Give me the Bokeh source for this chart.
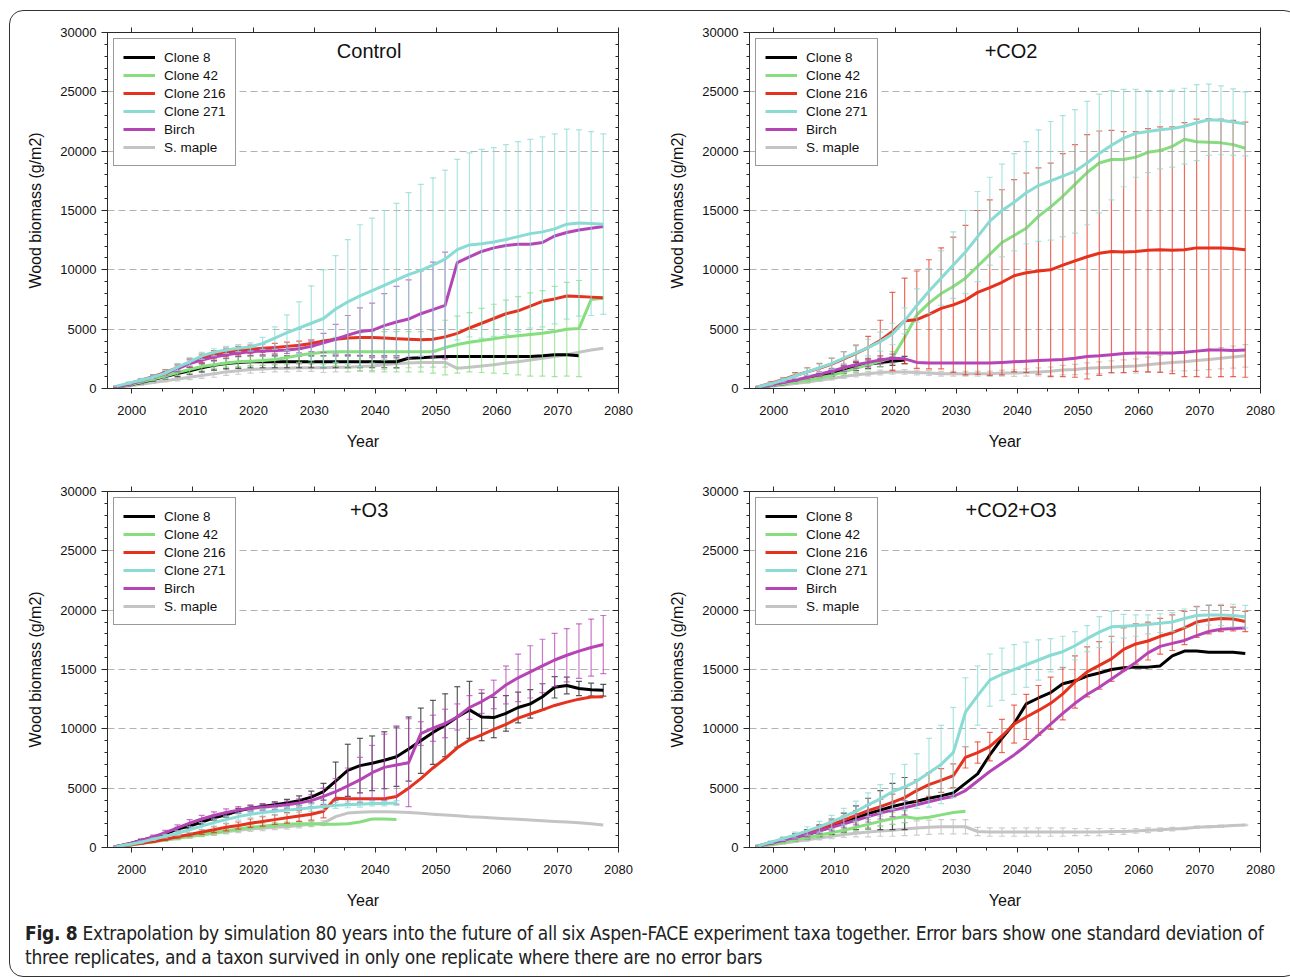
import numpy as np
from bokeh.plotting import figure
from bokeh.models import (Range1d, LinearAxis, SingleIntervalTicker, Legend,
                          LegendItem, Label, Div)
from bokeh.layouts import column, row
from bokeh.embed import file_html
from bokeh.resources import INLINE

N = None

# ---------------------------------------------------------------- data
years = [1997.5, 1999.5, 2001.5, 2003.5, 2005.5, 2007.5, 2009.5, 2011.5, 2013.5, 2015.5,
         2017.5, 2019.5, 2021.5, 2023.5, 2025.5, 2027.5, 2029.5, 2031.5, 2033.5, 2035.5,
         2037.5, 2039.5, 2041.5, 2043.5, 2045.5, 2047.5, 2049.5, 2051.5, 2053.5, 2055.5,
         2057.5, 2059.5, 2061.5, 2063.5, 2065.5, 2067.5, 2069.5, 2071.5, 2073.5, 2075.5,
         2077.5]

taxa = ["Clone 8", "Clone 42", "Clone 216", "Clone 271", "Birch", "S. maple"]
panel_titles = ["Control", "+CO2", "+O3", "+CO2+O3"]
y_ticks = [0, 5000, 10000, 15000, 20000, 25000, 30000]
x_ticks = [2000, 2010, 2020, 2030, 2040, 2050, 2060, 2070, 2080]

# ----- Control
ctrl_c8_mean = [120, 300, 500, 750, 1000, 1250, 1500, 1750, 1950, 2100,
                2200, 2250, 2250, 2250, 2250, 2250, 2250, 2250, 2250, 2250,
                2250, 2250, 2250, 2250, 2550, 2600, 2650, 2700, 2700, 2700,
                2700, 2700, 2700, 2700, 2700, 2750, 2850, 2850, 2750, N, N]
ctrl_c8_sd = [30, 60, 100, 150, 200, 250, 300, 350, 400, 450,
              500, 500, 500, 500, 500, 500, 500, 500, 500, 500,
              500, 500, 500, 500, N, N, N, N, N, N,
              N, N, N, N, N, N, N, N, N, N, N]
ctrl_c42_mean = [120, 300, 550, 800, 1050, 1350, 1600, 1850, 2000, 2150,
                 2250, 2300, 2350, 2450, 2600, 2800, 2950, 3050, 3100, 3100,
                 3100, 3100, 3100, 3100, 3100, 3100, 3100, 3450, 3700, 3900,
                 4050, 4200, 4350, 4450, 4550, 4650, 4800, 5000, 5050, 7500, 7600]
ctrl_c42_sd = [30, 60, 100, 150, 200, 250, 300, 300, 300, 350,
               400, 400, 400, 450, 500, 600, 800, 1000, 1200, 1400,
               1600, 1700, 1700, 1700, 1700, 1700, 1800, 2300, 2400, 2500,
               2700, 2900, 3100, 3300, 3500, 3600, 3800, 3950, 4050, N, N]
ctrl_c216_mean = [150, 400, 700, 1000, 1350, 1750, 2150, 2550, 2850, 3050,
                  3200, 3300, 3400, 3450, 3550, 3650, 3800, 4000, 4150, 4250,
                  4300, 4300, 4250, 4200, 4150, 4100, 4150, 4350, 4650, 5100,
                  5500, 5900, 6300, 6550, 6950, 7350, 7550, 7800, 7750, 7700, 7650]
ctrl_c216_sd = [50, 80, 120, 180, 250, 300, 350, 350, 350, 350,
                350, 350, 350, 350, 350, 350, 300, N, N, N,
                N, N, N, N, N, N, N, N, N, N,
                N, N, N, N, N, N, N, N, N, N, N]
ctrl_c271_mean = [200, 450, 700, 950, 1300, 1800, 2250, 2750, 3050, 3250,
                  3400, 3500, 3800, 4250, 4700, 5100, 5500, 5900, 6700, 7300,
                  7800, 8250, 8700, 9150, 9600, 9950, 10400, 10900, 11700, 12100,
                  12200, 12350, 12550, 12800, 13050, 13200, 13450, 13850, 13950, 13900, 13850]
ctrl_c271_sd = [50, 100, 150, 200, 250, 300, 350, 300, 300, 300,
                300, 350, 500, 950, 1500, 2200, 3150, 4100, 4500, 5250,
                6000, 6100, 6300, 6450, 6900, 7250, 7350, 7500, 7600, 7750,
                7950, 7950, 8000, 8000, 7950, 8000, 8000, 8000, 7850, 7750, 7600]
ctrl_birch_mean = [150, 350, 650, 950, 1250, 1650, 2100, 2400, 2650, 2850,
                   3000, 3100, 3150, 3200, 3250, 3350, 3550, 3850, 4150, 4500,
                   4800, 4900, 5300, 5600, 5850, 6300, 6650, 7000, 10600, 11100,
                   11550, 11850, 12050, 12150, 12150, 12300, 12850, 13150, 13350, 13500, 13650]
ctrl_birch_sd = [50, 80, 120, 150, 200, 250, 300, 300, 300, 300,
                 300, 300, 300, 300, 300, 350, 450, 800, 1250, 1650,
                 2000, 2300, 2700, 3000, 3300, 3600, 4000, 4500, N, N,
                 N, N, N, N, N, N, N, N, N, N, N]
ctrl_maple_mean = [80, 200, 350, 500, 650, 800, 950, 1100, 1250, 1400,
                   1500, 1600, 1650, 1700, 1700, 1750, 1750, 1750, 1800, 1800,
                   1850, 1900, 2000, 2100, 2150, 2200, 2200, 2200, 1700, 1800,
                   1900, 2000, 2150, 2250, 2400, 2550, 2700, 2850, 3050, 3250, 3400]
ctrl_maple_sd = [20, 40, 60, 80, 100, 150, 200, 250, 300, 300,
                 300, 300, 300, 300, 300, 300, 300, 400, 400, 400,
                 400, 400, 400, 400, 400, 400, 400, 400, N, N,
                 N, N, N, N, N, N, N, N, N, N, N]

# ----- +CO2
co2_c8_mean = [100, 250, 400, 600, 800, 1050, 1300, 1600, 1850, 2050,
               2200, 2300, 2400, N, N, N, N, N, N, N,
               N, N, N, N, N, N, N, N, N, N,
               N, N, N, N, N, N, N, N, N, N, N]
co2_c8_sd = [30, 50, 80, 100, 150, 200, 250, 300, 350, 350,
             350, 350, 300, N, N, N, N, N, N, N,
             N, N, N, N, N, N, N, N, N, N,
             N, N, N, N, N, N, N, N, N, N, N]
co2_c42_mean = [100, 250, 400, 550, 700, 900, 1100, 1400, 1700, 2000,
                2300, 2600, 4300, 6200, 7200, 8000, 8600, 9300, 10300, 11300,
                12300, 12900, 13500, 14500, 15300, 16200, 17200, 18200, 19000, 19300,
                19300, 19500, 19900, 20050, 20400, 21000, 20800, 20750, 20700, 20550, 20250]
co2_c42_sd = [30, 50, 80, 100, 150, 200, 250, 300, 350, 400,
              450, 500, N, N, N, N, N, N, N, N,
              N, N, N, N, N, N, N, N, N, N,
              N, N, N, N, N, N, N, N, N, N, N]
co2_c216_mean = [150, 450, 750, 1100, 1400, 1700, 2050, 2500, 2950, 3450,
                 4050, 4800, 5700, 5800, 6250, 6750, 7050, 7450, 8100, 8500,
                 8950, 9500, 9750, 9900, 10000, 10400, 10750, 11100, 11400, 11550,
                 11500, 11550, 11650, 11700, 11650, 11700, 11850, 11850, 11850, 11800, 11700]
co2_c216_sd = [50, 100, 150, 250, 350, 400, 500, 600, 700, 950,
               1700, 3300, 3600, 4100, 4600, 5100, 5700, 6300, 6900, 7400,
               7800, 8100, 8400, 8700, 9000, 9400, 9800, 10300, 10300, 10200,
               10150, 10100, 10250, 10350, 10400, 10700, 10850, 10900, 10850, 10800, 10750]
co2_c271_mean = [150, 400, 700, 1050, 1400, 1750, 2100, 2550, 3000, 3450,
                 3950, 4600, 5700, 7000, 8200, 9300, 10400, 11500, 12800, 14100,
                 15000, 15700, 16500, 17100, 17500, 17900, 18300, 19000, 19800, 20500,
                 21100, 21500, 21650, 21800, 21900, 22100, 22400, 22650, 22600, 22450, 22300]
co2_c271_sd = [50, 100, 150, 200, 300, 400, 500, 550, 600, 700,
               800, 900, 1100, 1400, 1900, 2300, 2800, 3500, 3800, 3700,
               3900, 4100, 4300, 4700, 5000, 5100, 5200, 5200, 5000, 4600,
               4100, 3700, 3450, 3300, 3250, 3200, 3200, 3000, 2900, 2800, 2700]
co2_birch_mean = [100, 300, 500, 700, 950, 1200, 1450, 1750, 2000, 2200,
                  2400, 2550, 2500, 2200, 2150, 2150, 2150, 2150, 2150, 2150,
                  2200, 2250, 2300, 2350, 2400, 2450, 2550, 2700, 2750, 2850,
                  2950, 3000, 3000, 3000, 3000, 3050, 3150, 3250, 3250, 3200, 3250]
co2_birch_sd = [30, 50, 80, 100, 150, 200, 250, 300, 300, 350,
                350, 350, N, N, N, N, N, N, N, N,
                N, N, N, N, N, N, N, N, N, N,
                N, N, N, N, N, N, N, N, N, N, N]
co2_maple_mean = [80, 180, 300, 420, 550, 700, 850, 1000, 1150, 1250,
                  1350, 1400, 1400, 1350, 1300, 1250, 1250, 1250, 1250, 1250,
                  1300, 1300, 1350, 1400, 1450, 1550, 1600, 1700, 1750, 1800,
                  1850, 1900, 2000, 2100, 2200, 2250, 2350, 2450, 2550, 2650, 2750]
co2_maple_sd = [20, 30, 50, 70, 90, 110, 130, 150, 170, 190,
                200, 200, 200, 200, 200, 200, 200, 200, 200, 220,
                250, 280, 300, 330, 360, 400, 430, 460, 500, 530,
                560, 600, 640, 680, 720, 770, 820, 860, 900, 930, 950]

# ----- +O3
o3_c8_mean = [80, 300, 600, 850, 1150, 1550, 1800, 2150, 2500, 2750,
              3100, 3300, 3450, 3600, 3750, 3950, 4250, 4700, 5600, 6500,
              6900, 7100, 7350, 7650, 8300, 9000, 9700, 10300, 11000, 11600,
              11000, 10950, 11300, 11800, 12100, 12700, 13500, 13650, 13400, 13300, 13250]
o3_c8_sd = [30, 50, 80, 100, 120, 150, 180, 200, 200, 200,
            200, 200, 200, 250, 300, 400, 500, 700, 1600, 2200,
            2300, 2300, 2400, 2500, 2700, 2750, 2700, 2650, 2550, 2400,
            2000, 1700, 1500, 1300, 1200, 1100, 900, 700, 600, 550, 500]
o3_c42_mean = [60, 180, 330, 480, 630, 780, 950, 1100, 1250, 1400,
               1550, 1700, 1800, 1900, 1950, 2000, 2000, 1950, 1950, 2000,
               2150, 2400, 2400, 2350, N, N, N, N, N, N,
               N, N, N, N, N, N, N, N, N, N, N]
o3_c42_sd = [20, 40, 60, 80, 100, 120, 140, 160, 180, 200,
             200, 200, 200, 200, 200, 200, 200, N, N, N,
             N, N, N, N, N, N, N, N, N, N,
             N, N, N, N, N, N, N, N, N, N, N]
o3_c216_mean = [80, 200, 350, 500, 700, 900, 1100, 1300, 1500, 1700,
                1850, 2050, 2200, 2350, 2500, 2650, 2800, 3050, 4150, 4100,
                4100, 4100, 4100, 4300, 5000, 5800, 6700, 7500, 8400, 9050,
                9500, 9950, 10370, 10900, 11250, 11600, 11970, 12250, 12500, 12680, 12700]
o3_c216_sd = [20, 40, 60, 80, 100, 120, 150, 200, 250, 300,
              300, 350, 400, 400, 450, 450, 500, 550, N, N,
              N, N, N, N, N, N, N, N, N, N,
              N, N, N, N, N, N, N, N, N, N, N]
o3_c271_mean = [80, 250, 450, 700, 950, 1200, 1500, 1800, 2100, 2350,
                2600, 2800, 2950, 3050, 3150, 3250, 3350, 3450, 3550, 3600,
                3650, 3700, 3700, 3750, N, N, N, N, N, N,
                N, N, N, N, N, N, N, N, N, N, N]
o3_c271_sd = [30, 50, 80, 100, 150, 200, 250, 300, 300, 300,
              300, 300, 300, 300, 300, 300, 300, 300, 250, 250,
              250, 200, 200, 200, N, N, N, N, N, N,
              N, N, N, N, N, N, N, N, N, N, N]
o3_birch_mean = [100, 300, 600, 900, 1250, 1650, 2050, 2400, 2700, 2950,
                 3150, 3300, 3400, 3500, 3600, 3750, 3950, 4300, 4700, 5200,
                 5700, 6300, 6750, 6950, 7150, 9600, 10050, 10450, 11000, 11800,
                 12300, 12900, 13700, 14300, 14800, 15300, 15800, 16200, 16550, 16850, 17100]
o3_birch_sd = [30, 60, 100, 150, 200, 250, 300, 300, 300, 300,
               300, 300, 300, 300, 300, 350, 500, 700, 1100, 1500,
               1900, 2300, 2800, 3300, 3700, 1000, 1100, 1200, 1100, 1000,
               1000, 1200, 1600, 2000, 2200, 2250, 2250, 2250, 2300, 2400, 2450]
o3_maple_mean = [60, 180, 330, 480, 630, 780, 920, 1060, 1200, 1330,
                 1450, 1560, 1630, 1700, 1750, 1850, 1950, 2050, 2600, 2900,
                 2980, 3020, 3020, 3000, 2950, 2880, 2800, 2740, 2680, 2600,
                 2550, 2490, 2430, 2380, 2320, 2260, 2200, 2140, 2080, 2000, 1900]
o3_maple_sd = [20, 30, 50, 70, 90, 110, 130, 150, 170, 190,
               200, 200, 200, 200, 200, 200, 200, 200, N, N,
               N, N, N, N, N, N, N, N, N, N,
               N, N, N, N, N, N, N, N, N, N, N]

# ----- +CO2+O3
both_c8_mean = [120, 350, 600, 850, 1100, 1400, 1750, 2100, 2500, 2850,
                3150, 3450, 3700, 3900, 4150, 4350, 4600, 5400, 6200, 7800,
                9200, 10450, 12100, 12600, 13050, 13800, 14050, 14450, 14700, 15000,
                15150, 15200, 15200, 15300, 16150, 16550, 16550, 16450, 16450, 16450, 16350]
both_c8_sd = [50, 100, 200, 300, 400, 500, 650, 800, 1000, 1300,
              1650, 1950, 2200, N, N, N, N, N, N, N,
              N, N, N, N, N, N, N, N, N, N,
              N, N, N, N, N, N, N, N, N, N, N]
both_c42_mean = [100, 250, 450, 650, 850, 1050, 1250, 1450, 1700, 1950,
                 2200, 2450, 2600, 2450, 2550, 2750, 2950, 3050, N, N,
                 N, N, N, N, N, N, N, N, N, N,
                 N, N, N, N, N, N, N, N, N, N, N]
both_c42_sd = [30, 50, 80, 120, 160, 200, 250, 300, 350, 400,
               450, 500, 500, N, N, N, N, N, N, N,
               N, N, N, N, N, N, N, N, N, N,
               N, N, N, N, N, N, N, N, N, N, N]
both_c216_mean = [150, 400, 650, 950, 1250, 1600, 1950, 2300, 2700, 3100,
                  3450, 3800, 4200, 4800, 5300, 5650, 6050, 7600, 8000, 8500,
                  9400, 10400, 11000, 11550, 12150, 12950, 13950, 14800, 15350, 15900,
                  16700, 17150, 17400, 17800, 18100, 18500, 19000, 19200, 19300, 19250, 19050]
both_c216_sd = [50, 80, 120, 160, 200, 250, 300, 350, 400, 500,
                600, 700, 800, 900, 1000, 1000, 1000, 900, 900, 1200,
                1400, 1600, 1900, 2100, 2200, 2200, 2200, 2100, 2000, 1900,
                1800, 1700, 1600, 1500, 1500, 1400, 1300, 1200, 1100, 1000, 850]
both_c271_mean = [150, 450, 750, 1050, 1400, 1750, 2150, 2600, 3050, 3600,
                  4100, 4700, 5100, 5600, 6300, 7000, 8000, 11400, 12800, 14100,
                  14600, 15000, 15400, 15800, 16200, 16500, 17000, 17600, 18150, 18600,
                  18650, 18700, 18800, 18900, 19000, 19300, 19550, 19600, 19600, 19550, 19450]
both_c271_sd = [50, 100, 150, 250, 350, 450, 550, 700, 850, 1000,
                1200, 1500, 1900, 2300, 2900, 3300, 3800, 2900, 2500, 2200,
                2200, 2100, 1900, 1700, 1400, 1300, 1200, 1100, 1300, 1300,
                1000, 900, 800, 800, 800, 800, 800, 850, 900, 950, 950]
both_birch_mean = [120, 350, 600, 850, 1100, 1400, 1700, 2000, 2300, 2600,
                   2900, 3150, 3350, 3600, 3850, 4100, 4300, 4800, 5600, 6400,
                   7100, 7800, 8600, 9500, 10400, 11300, 12150, 12900, 13500, 14200,
                   14900, 15600, 16400, 16950, 17200, 17450, 17850, 18200, 18400, 18450, 18500]
both_birch_sd = [30, 60, 100, 150, 200, 250, 300, 350, 400, 450,
                 500, 550, 600, N, N, N, N, N, N, N,
                 N, N, N, N, N, N, N, N, N, N,
                 N, N, N, N, N, N, N, N, N, N, N]
both_maple_mean = [80, 200, 350, 500, 650, 800, 950, 1100, 1200, 1300,
                   1400, 1450, 1550, 1650, 1700, 1750, 1750, 1750, 1350, 1300,
                   1300, 1300, 1300, 1300, 1300, 1300, 1300, 1300, 1300, 1350,
                   1350, 1400, 1450, 1500, 1550, 1600, 1700, 1750, 1800, 1850, 1900]
both_maple_sd = [20, 30, 50, 80, 120, 160, 200, 250, 300, 400,
                 450, 500, 550, 600, 600, 600, 600, 600, 350, 350,
                 350, 350, 350, 350, 350, 350, 300, 300, 300, 250,
                 250, 200, 200, 150, 150, 100, 100, 80, 80, 60, 60]

# ---------------------------------------------------------------- style
COL = {"Clone 8": "#000000", "Clone 42": "#86de7e", "Clone 216": "#e5321f",
       "Clone 271": "#8adbd4", "Birch": "#b544b5", "S. maple": "#c4c4c4"}
BAR = {"Clone 8": "#3c3c3c", "Clone 42": "#86de7e", "Clone 216": "#e5321f",
       "Clone 271": "#8adbd4", "Birch": "#b544b5", "S. maple": "#bdbdbd"}
DRAW_ORDER = ["S. maple", "Clone 8", "Clone 42", "Clone 216", "Birch", "Clone 271"]
FONT = "Liberation Sans"
AXC = "#2a2a2a"


def arr(v):
    return np.array([np.nan if a is None else a for a in v], dtype=float)


def style_ghost_axis(ax, blank):
    ax.major_label_overrides = {t: "" for t in blank}
    ax.major_label_text_font_size = "13px"
    ax.major_label_standoff = 0
    ax.axis_line_color = AXC
    ax.major_tick_line_color = AXC
    ax.minor_tick_line_color = AXC


def make_panel(title, means, sds, width, height, mb_left, mb_top, mb_bottom, mb_right):
    p = figure(width=width, height=height,
               x_range=Range1d(1996, 2080), y_range=Range1d(0, 30000),
               output_backend="svg", toolbar_location=None,
               min_border_left=mb_left, min_border_right=mb_right,
               min_border_top=mb_top, min_border_bottom=mb_bottom)
    p.border_fill_alpha = 0
    p.background_fill_color = "white"
    p.outline_line_color = AXC
    p.outline_line_width = 1

    xt = SingleIntervalTicker(interval=10, num_minor_ticks=2)
    yt = SingleIntervalTicker(interval=5000, num_minor_ticks=5)
    p.xaxis.ticker = xt
    p.yaxis.ticker = yt
    p.xgrid.visible = False
    p.ygrid.ticker = yt
    p.ygrid.grid_line_color = "#b2b2b2"
    p.ygrid.grid_line_dash = "7 4"
    p.ygrid.grid_line_width = 1

    for ax in (p.xaxis[0], p.yaxis[0]):
        ax.axis_line_color = AXC
        ax.major_tick_line_color = AXC
        ax.minor_tick_line_color = AXC
        ax.major_tick_in = 0
        ax.minor_tick_in = 0
        ax.major_label_text_font = FONT
        ax.major_label_text_font_size = "13px"
        ax.major_label_text_color = "#111111"
        ax.axis_label_text_font = FONT
        ax.axis_label_text_font_size = "16px"
        ax.axis_label_text_font_style = "normal"
        ax.axis_label_text_color = "#111111"
    p.xaxis.axis_label = "Year"
    p.yaxis.axis_label = "Wood biomass (g/m2)"
    p.xaxis.major_tick_out = 5
    p.xaxis.minor_tick_out = 3
    p.xaxis.major_label_standoff = 12
    p.xaxis.axis_label_standoff = 15
    p.yaxis.major_tick_out = 6
    p.yaxis.minor_tick_out = 3
    p.yaxis.major_label_standoff = 5
    p.yaxis.axis_label_standoff = 13

    rax = LinearAxis(ticker=SingleIntervalTicker(interval=5000, num_minor_ticks=5))
    rax.major_tick_in = 6
    rax.major_tick_out = 0
    rax.minor_tick_in = 3
    rax.minor_tick_out = 0
    style_ghost_axis(rax, y_ticks)
    p.add_layout(rax, "right")

    tax = LinearAxis(ticker=SingleIntervalTicker(interval=10, num_minor_ticks=2))
    tax.major_tick_in = 0
    tax.major_tick_out = 5
    tax.minor_tick_in = 0
    tax.minor_tick_out = 0
    style_ghost_axis(tax, x_ticks)
    p.add_layout(tax, "above")

    xs = np.array(years, dtype=float)
    lines = {}
    for name in DRAW_ORDER:
        m = arr(means[name])
        s = arr(sds[name])
        ok = ~np.isnan(m) & ~np.isnan(s)
        if ok.any():
            bx = xs[ok]
            lo = (m - s)[ok]
            hi = (m + s)[ok]
            alpha = 0.85 if name == "Clone 8" else 0.72
            p.segment(x0=bx, y0=lo, x1=bx, y1=hi, line_color=BAR[name],
                      line_alpha=alpha, line_width=1.2)
            p.scatter(x=np.concatenate([bx, bx]), y=np.concatenate([hi, lo]),
                      marker="dash", size=6, line_color=BAR[name],
                      line_alpha=alpha, line_width=1.2)
        lines[name] = p.line(xs, m, line_color=COL[name], line_width=3,
                             line_join="round")

    items = [LegendItem(label=n, renderers=[lines[n]]) for n in taxa]
    leg = Legend(items=items, location="top_left")
    leg.margin = 6
    leg.padding = 9
    leg.spacing = 0
    leg.label_height = 18
    leg.glyph_height = 18
    leg.glyph_width = 32
    leg.label_standoff = 9
    leg.label_text_font = FONT
    leg.label_text_font_size = "13.5px"
    leg.label_text_color = "#111111"
    leg.border_line_color = "#333333"
    leg.border_line_width = 1
    leg.background_fill_color = "white"
    leg.background_fill_alpha = 1
    p.add_layout(leg)

    p.add_layout(Label(x=2039, y=28400, text=title, text_align="center",
                       text_baseline="middle", text_font=FONT,
                       text_font_size="20px", text_color="#111111"))
    return p


def bundle(c8, c42, c216, c271, birch, maple):
    return {"Clone 8": c8, "Clone 42": c42, "Clone 216": c216,
            "Clone 271": c271, "Birch": birch, "S. maple": maple}


p1 = make_panel(panel_titles[0],
                bundle(ctrl_c8_mean, ctrl_c42_mean, ctrl_c216_mean, ctrl_c271_mean, ctrl_birch_mean, ctrl_maple_mean),
                bundle(ctrl_c8_sd, ctrl_c42_sd, ctrl_c216_sd, ctrl_c271_sd, ctrl_birch_sd, ctrl_maple_sd),
                641, 456, 97, 21, 79, 33)
p2 = make_panel(panel_titles[1],
                bundle(co2_c8_mean, co2_c42_mean, co2_c216_mean, co2_c271_mean, co2_birch_mean, co2_maple_mean),
                bundle(co2_c8_sd, co2_c42_sd, co2_c216_sd, co2_c271_sd, co2_birch_sd, co2_maple_sd),
                636, 456, 98, 21, 79, 27)
p3 = make_panel(panel_titles[2],
                bundle(o3_c8_mean, o3_c42_mean, o3_c216_mean, o3_c271_mean, o3_birch_mean, o3_maple_mean),
                bundle(o3_c8_sd, o3_c42_sd, o3_c216_sd, o3_c271_sd, o3_birch_sd, o3_maple_sd),
                641, 449, 97, 24, 69, 33)
p4 = make_panel(panel_titles[3],
                bundle(both_c8_mean, both_c42_mean, both_c216_mean, both_c271_mean, both_birch_mean, both_maple_mean),
                bundle(both_c8_sd, both_c42_sd, both_c216_sd, both_c271_sd, both_birch_sd, both_maple_sd),
                636, 449, 98, 24, 69, 27)

caption_html = (
    '<div style="padding:0 0 0 10px; margin:0; font-family:\'DejaVu Sans Condensed\', '
    '\'Open Sans\', sans-serif; font-size:19px; letter-spacing:-0.28px; '
    'line-height:24px; color:#222; white-space:nowrap;">'
    '<b>Fig. 8</b> Extrapolation by simulation 80 years into the future of all six '
    'Aspen-FACE experiment taxa together. Error bars show one standard deviation of<br>'
    'three replicates, and a taxon survived in only one replicate where there are no error bars'
    '</div>')
cap = Div(text=caption_html, width=1277, height=50)

layout = column(row(p1, p2), row(p3, p4), cap,
                styles={"border": "1px solid #333", "border-radius": "14px",
                        "margin-left": "9px", "margin-top": "10px"})

html = file_html(layout, INLINE, "Fig. 8")
with open("out.html", "w") as f:
    f.write(html)
